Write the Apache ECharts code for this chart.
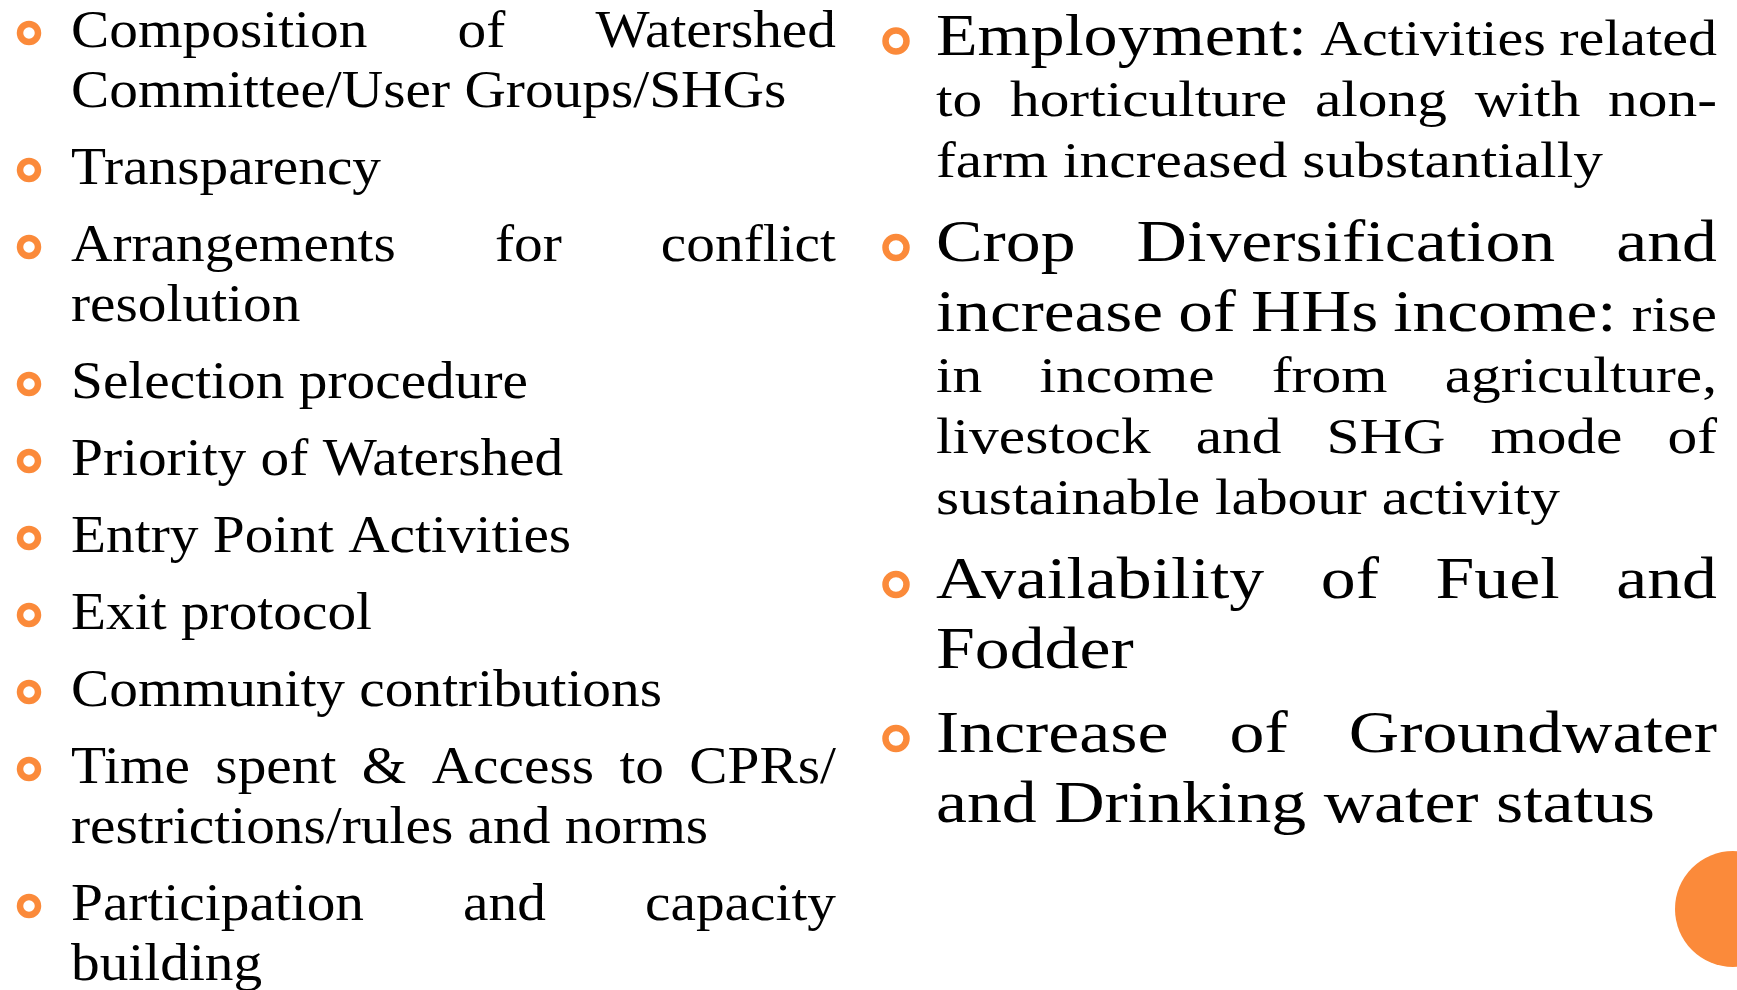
<!DOCTYPE html>
<html>
<head>
<meta charset="utf-8">
<title>Watershed indicators</title>
<script src="https://cdn.jsdelivr.net/npm/echarts@6/dist/echarts.min.js"></script>
<style>
  html, body { margin: 0; padding: 0; background: #fff; }
  #main { width: 1737px; height: 990px; }
</style>
</head>
<body>
<div id="main"></div>
<script>
// left column: one entry per bullet, one string per line as broken on the slide
const processItems = [
  ['Composition of Watershed', 'Committee/User Groups/SHGs'],
  ['Transparency'],
  ['Arrangements for conflict', 'resolution'],
  ['Selection procedure'],
  ['Priority of Watershed'],
  ['Entry Point Activities'],
  ['Exit protocol'],
  ['Community contributions'],
  ['Time spent & Access to CPRs/', 'restrictions/rules and norms'],
  ['Participation and capacity', 'building']
]

// right column: each line is a list of [text, size] runs, L = heading size, S = body size
const outcomeItems = [
  [
    [['Employment:', 'L'], ['Activities related', 'S']],
    [['to horticulture along with non-', 'S']],
    [['farm increased substantially', 'S']]
  ],
  [
    [['Crop Diversification and', 'L']],
    [['increase of HHs income:', 'L'], ['rise', 'S']],
    [['in income from agriculture,', 'S']],
    [['livestock and SHG mode of', 'S']],
    [['sustainable labour activity', 'S']]
  ],
  [
    [['Availability of Fuel and', 'L']],
    [['Fodder', 'L']]
  ],
  [
    [['Increase of Groundwater', 'L']],
    [['and Drinking water status', 'L']]
  ]
]

const FAMILY = 'Liberation Serif'
const ORANGE = '#FB8A3A'
const MID = 0.27 // canvas 'middle' sits this far above the baseline (in em)

const measureCtx = document.createElement('canvas').getContext('2d')
function measure(str, size) {
  measureCtx.font = size + 'px "' + FAMILY + '"'
  return measureCtx.measureText(str).width
}
// the slide face (Century Schoolbook) is wider than Times, stretch each size to a known line width
function face(size, sample, target) {
  return { size: size, sx: target / measure(sample, size) }
}
const faces = {
  P: face(52, 'Selection procedure', 457),
  L: face(59, 'and Drinking water status', 719),
  S: face(50, 'sustainable labour activity', 624)
}

const elements = []

function addLine(runs, x0, width, baseline, justify) {
  const words = []
  runs.forEach(([text, key]) => {
    text.split(' ').forEach(t => words.push({ t: t, f: faces[key] }))
  })
  words.forEach(w => {
    w.sx = w.f.sx
    w.space = measure(' ', w.f.size) * w.sx
    w.w = measure(w.t, w.f.size) * w.sx
  })
  let used = words.reduce((s, w) => s + w.w, 0)
  const minGaps = words.slice(1).reduce((s, w) => s + w.space * 0.9, 0)
  // a justified line that would not fit gets squeezed a little
  if (used + minGaps > width) {
    const k = (width - minGaps) / used
    words.forEach(w => { w.sx *= k; w.w *= k })
    used = width - minGaps
  }
  let x = x0
  words.forEach(w => {
    elements.push({
      type: 'text',
      x: x,
      y: baseline - MID * w.f.size,
      scaleX: w.sx,
      silent: true,
      style: {
        text: w.t,
        fontSize: w.f.size,
        fontFamily: FAMILY,
        fill: '#000',
        align: 'left',
        verticalAlign: 'middle'
      }
    })
    const gap = justify && words.length > 1
      ? (width - used) / (words.length - 1)
      : w.space
    x += w.w + gap
  })
}

function addBullet(cx, cy, r) {
  elements.push({
    type: 'circle',
    silent: true,
    shape: { cx: cx, cy: cy, r: r },
    style: { fill: 'none', stroke: ORANGE, lineWidth: 6.5 }
  })
}

// left column
let base = 47
processItems.forEach((lines, i) => {
  if (i > 0) base += 60 + 17
  lines.forEach((line, j) => {
    if (j > 0) base += 60
    if (j === 0) addBullet(29, base - 14, 9)
    addLine([[line, 'P']], 71, 765, base, j < lines.length - 1)
  })
})

// right column
base = 55
outcomeItems.forEach((lines, i) => {
  lines.forEach((runs, j) => {
    const big = runs.some(r => r[1] === 'L')
    if (i > 0 || j > 0) base += (big ? 69.5 : 61) + (j === 0 ? 15 : 0)
    if (j === 0) addBullet(896, base - 14, 10.5)
    addLine(runs, 936, 781, base, j < lines.length - 1)
  })
})

// corner dot of the slide template
elements.push({
  type: 'circle',
  silent: true,
  shape: { cx: 1733, cy: 909, r: 58 },
  style: { fill: ORANGE }
})

const chart = echarts.init(document.getElementById('main'))
chart.setOption({
  animation: false,
  backgroundColor: '#fff',
  graphic: { elements: elements }
})
</script>
</body>
</html>
